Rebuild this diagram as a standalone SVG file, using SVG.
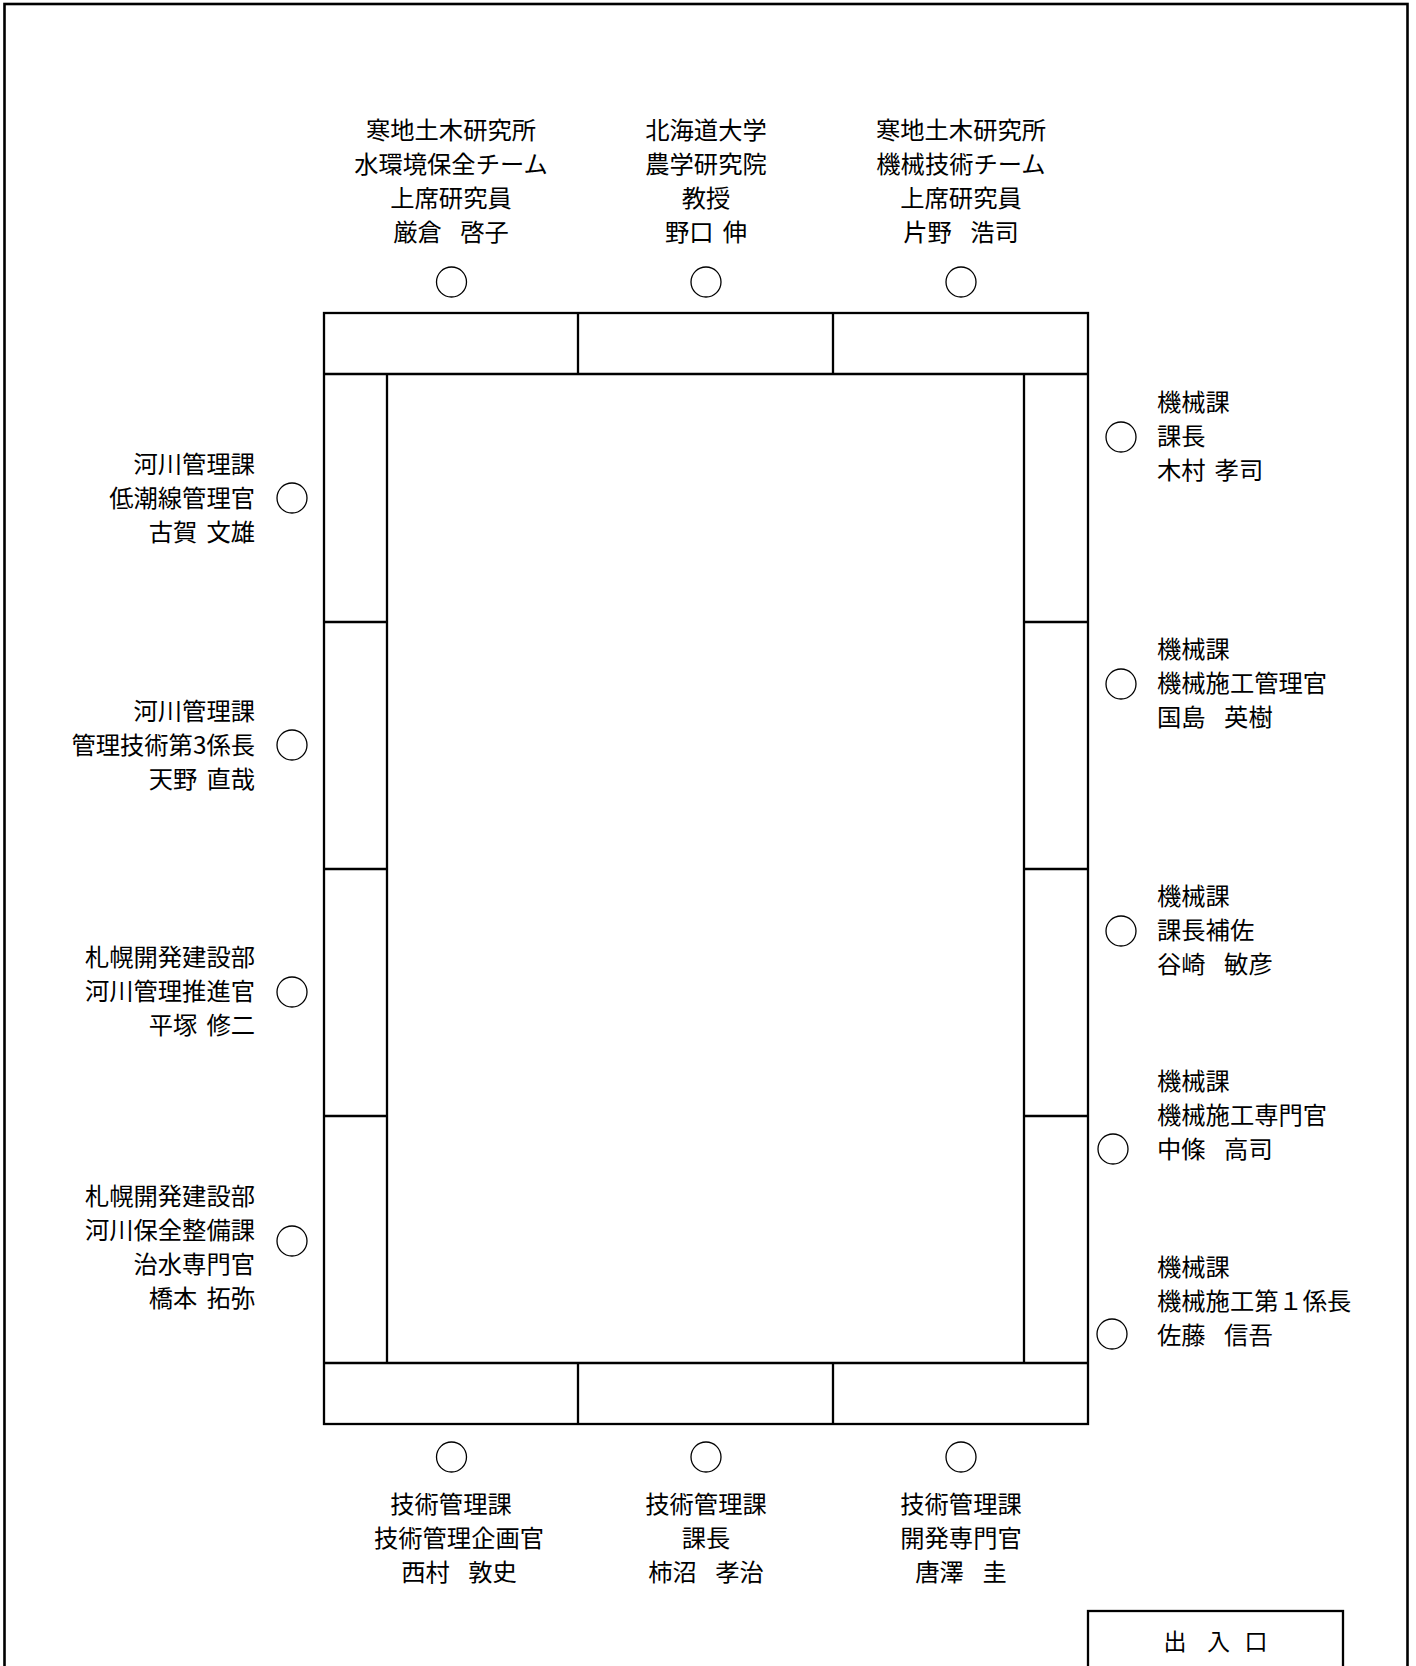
<svg xmlns="http://www.w3.org/2000/svg" width="1416" height="1666" viewBox="0 0 1416 1666">
<style>
.t{font-family:"Noto Sans CJK JP","Noto Sans CJK SC",sans-serif;font-size:24.3px;fill:#000}
.c{text-anchor:middle}
.r{text-anchor:end}
.l{text-anchor:start}
.seat{fill:none;stroke:#000;stroke-width:1.3}
.ln{fill:none;stroke:#000;stroke-width:2.3}
</style>
<rect width="1416" height="1666" fill="#fff"/>
<rect x="4.5" y="4" width="1403" height="1690" fill="none" stroke="#000" stroke-width="2.6"/>

<g id="table">
  <rect class="ln" x="324" y="313" width="764" height="1111"/>
  <path class="ln" d="M324 374H1088M324 1363H1088M578 313V374M833 313V374M578 1363V1424M833 1363V1424M387 374V1363M1024 374V1363M324 622H387M324 869H387M324 1116H387M1024 622H1088M1024 869H1088M1024 1116H1088"/>
</g>

<g id="top1">
  <text class="t c" x="451" y="138.5">寒地土木研究所</text>
  <text class="t c" x="451" y="172.5">水環境保全チーム</text>
  <text class="t c" x="451" y="206.5">上席研究員</text>
  <text class="t c" x="451" y="240.5">厳倉<tspan dx="18.5">啓子</tspan></text>
  <circle class="seat" cx="451.5" cy="282" r="15"/>
</g>
<g id="top2">
  <text class="t c" x="706" y="138.5">北海道大学</text>
  <text class="t c" x="706" y="172.5">農学研究院</text>
  <text class="t c" x="706" y="206.5">教授</text>
  <text class="t c" x="706" y="240.5">野口<tspan dx="9">伸</tspan></text>
  <circle class="seat" cx="706" cy="282" r="15"/>
</g>
<g id="top3">
  <text class="t c" x="961" y="138.5">寒地土木研究所</text>
  <text class="t c" x="961" y="172.5">機械技術チーム</text>
  <text class="t c" x="961" y="206.5">上席研究員</text>
  <text class="t c" x="961" y="240.5">片野<tspan dx="18.5">浩司</tspan></text>
  <circle class="seat" cx="961" cy="282" r="15"/>
</g>

<g id="left1">
  <text class="t r" x="255" y="473">河川管理課</text>
  <text class="t r" x="255" y="507">低潮線管理官</text>
  <text class="t r" x="255" y="541">古賀<tspan dx="9">文雄</tspan></text>
  <circle class="seat" cx="292" cy="498" r="15"/>
</g>
<g id="left2">
  <text class="t r" x="255" y="720">河川管理課</text>
  <text class="t r" x="255" y="754">管理技術第3係長</text>
  <text class="t r" x="255" y="788">天野<tspan dx="9">直哉</tspan></text>
  <circle class="seat" cx="292" cy="745" r="15"/>
</g>
<g id="left3">
  <text class="t r" x="255" y="966">札幌開発建設部</text>
  <text class="t r" x="255" y="1000">河川管理推進官</text>
  <text class="t r" x="255" y="1034">平塚<tspan dx="9">修二</tspan></text>
  <circle class="seat" cx="292" cy="992" r="15"/>
</g>
<g id="left4">
  <text class="t r" x="255" y="1205">札幌開発建設部</text>
  <text class="t r" x="255" y="1239">河川保全整備課</text>
  <text class="t r" x="255" y="1273">治水専門官</text>
  <text class="t r" x="255" y="1307">橋本<tspan dx="9">拓弥</tspan></text>
  <circle class="seat" cx="292" cy="1241" r="15"/>
</g>

<g id="right1">
  <text class="t l" x="1157" y="411">機械課</text>
  <text class="t l" x="1157" y="445">課長</text>
  <text class="t l" x="1157" y="479">木村<tspan dx="9">孝司</tspan></text>
  <circle class="seat" cx="1121" cy="437" r="15"/>
</g>
<g id="right2">
  <text class="t l" x="1157" y="658">機械課</text>
  <text class="t l" x="1157" y="692">機械施工管理官</text>
  <text class="t l" x="1157" y="726">国島<tspan dx="18.5">英樹</tspan></text>
  <circle class="seat" cx="1121" cy="684" r="15"/>
</g>
<g id="right3">
  <text class="t l" x="1157" y="905">機械課</text>
  <text class="t l" x="1157" y="939">課長補佐</text>
  <text class="t l" x="1157" y="973">谷崎<tspan dx="18.5">敏彦</tspan></text>
  <circle class="seat" cx="1121" cy="931" r="15"/>
</g>
<g id="right4">
  <text class="t l" x="1157" y="1090">機械課</text>
  <text class="t l" x="1157" y="1124">機械施工専門官</text>
  <text class="t l" x="1157" y="1158">中條<tspan dx="18.5">高司</tspan></text>
  <circle class="seat" cx="1113" cy="1149" r="15"/>
</g>
<g id="right5">
  <text class="t l" x="1157" y="1276">機械課</text>
  <text class="t l" x="1157" y="1310">機械施工第１係長</text>
  <text class="t l" x="1157" y="1344">佐藤<tspan dx="18.5">信吾</tspan></text>
  <circle class="seat" cx="1112" cy="1334" r="15"/>
</g>

<g id="bottom1">
  <circle class="seat" cx="451.5" cy="1457" r="15"/>
  <text class="t c" x="451" y="1513">技術管理課</text>
  <text class="t c" x="459" y="1547">技術管理企画官</text>
  <text class="t c" x="459" y="1581">西村<tspan dx="18.5">敦史</tspan></text>
</g>
<g id="bottom2">
  <circle class="seat" cx="706" cy="1457" r="15"/>
  <text class="t c" x="706" y="1513">技術管理課</text>
  <text class="t c" x="706" y="1547">課長</text>
  <text class="t c" x="706" y="1581">柿沼<tspan dx="18.5">孝治</tspan></text>
</g>
<g id="bottom3">
  <circle class="seat" cx="961" cy="1457" r="15"/>
  <text class="t c" x="961" y="1513">技術管理課</text>
  <text class="t c" x="961" y="1547">開発専門官</text>
  <text class="t c" x="961" y="1581">唐澤<tspan dx="18.5">圭</tspan></text>
</g>

<g id="entrance">
  <rect x="1088" y="1611" width="255" height="80" fill="none" stroke="#000" stroke-width="2.3"/>
  <text class="t l" style="font-size:23px" x="1163.5 1207 1244.5" y="1650">出入口</text>
</g>
</svg>
